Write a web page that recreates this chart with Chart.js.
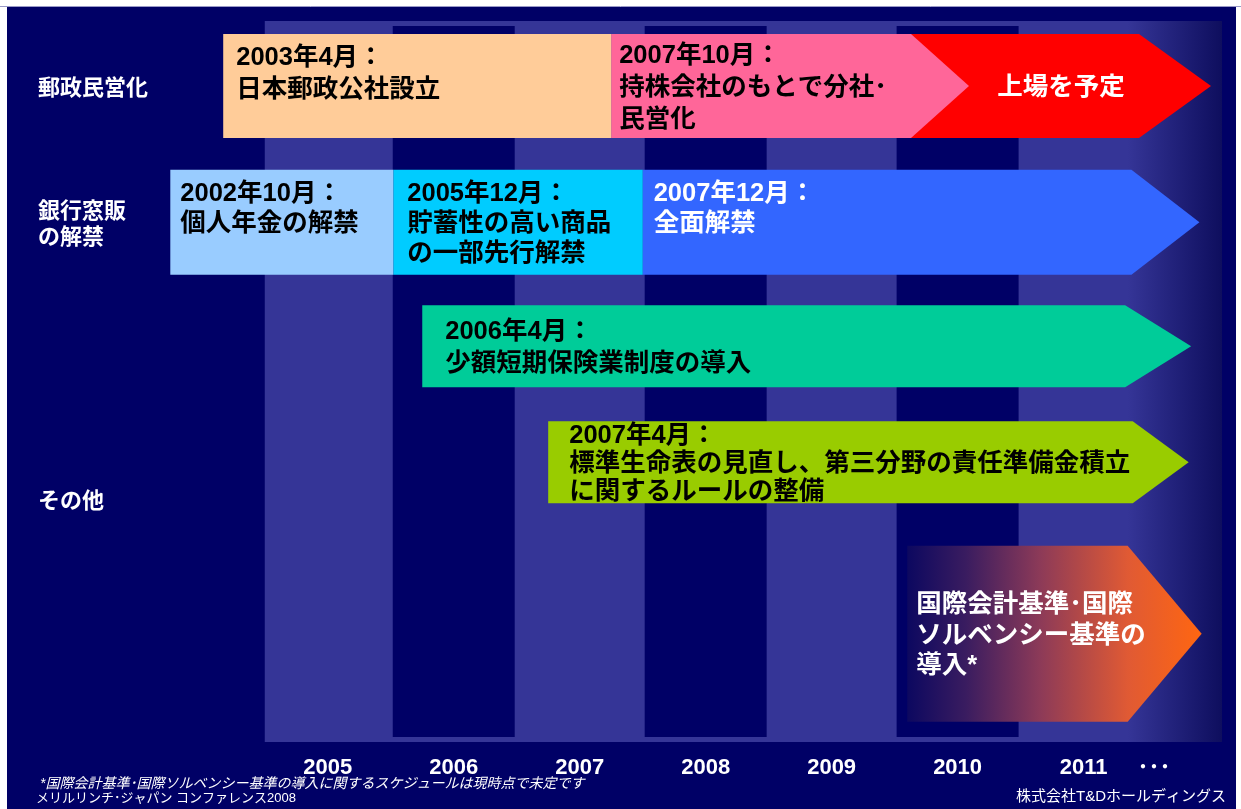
<!DOCTYPE html>
<html lang="ja">
<head>
<meta charset="UTF-8">
<title>規制緩和スケジュール</title>
<script src="https://cdn.jsdelivr.net/npm/chart.js"></script>
<style>
  html, body { margin: 0; padding: 0; background: #fff; }
  .chart-box { position: relative; width: 1241px; height: 809px; }
</style>
</head>
<body>
<div class="chart-box"><canvas id="timelineChart" width="1241" height="809"></canvas></div>
<script>
// years on the bottom axis
const years = [2005, 2006, 2007, 2008, 2009, 2010, 2011];
const moreYearsPos = 2012.06;   // the "･･･" after 2011

// row titles at the left (y runs 0 = top .. 100 = bottom)
const rowNames = ['郵政民営化', ['銀行窓販', 'の解禁'], 'その他'];
const rowNamePos = [9.4, 28.3, 66.7];

// lanes the arrows run in
const laneCenter = [9.0, 27.9, 45.1, 61.2, 85.0];

// events: text, lane, start / end (in years)
const eventText = [
    '2003年4月：\n日本郵政公社設立',
    '2007年10月：\n持株会社のもとで分社･\n民営化',
    '上場を予定',
    '2002年10月：\n個人年金の解禁',
    '2005年12月：\n貯蓄性の高い商品\nの一部先行解禁',
    '2007年12月：\n全面解禁',
    '2006年4月：\n少額短期保険業制度の導入',
    '2007年4月：\n標準生命表の見直し、第三分野の責任準備金積立\nに関するルールの整備',
    '国際会計基準･国際\nソルベンシー基準の\n導入*'
];
const eventLane  = [0, 0, 0, 1, 1, 1, 2, 3, 4];
const eventStart = [2004.67, 2007.75, 2010.13, 2004.25, 2006.02, 2008.00, 2006.25, 2007.25, 2010.10];
const eventEnd   = [2007.75, 2010.13, 2011.94, 2006.02, 2008.00, 2011.88, 2011.83, 2011.89, 2011.85];

// ---- styling ----
const NAVY = '#000066';
const BAND = '#353597';
const FONT = '"Liberation Sans", "Noto Sans CJK JP", sans-serif';
const laneHeight = [104, 105, 82, 82, 176];
const eventColor = ['#FFCC99', '#FF6699', '#FF0000', '#99CCFF', '#00CCFF', '#3366FF', '#00CC99', '#99CC00', null];
const eventTextColor = ['#000', '#000', '#fff', '#000', '#000', '#fff', '#000', '#000', '#fff'];
const eventTip = [0, 58, 72, 0, 0, 68, 66, 56, 74];
const eventPadX = [13, 8, 0, 10, 14, 11, 23, 21, 9];
const eventAnchor = ['top', 'middle', 'center', 'top', 'middle', 'top', 'middle', 'middle', 'middle'];
const eventLineH = [32, 32, 32, 30, 30, 30, 32, 28, 30.5];

const datasets = eventText.map((t, i) => ({
    label: t,
    data: [{ x: [eventStart[i], eventEnd[i]], y: laneCenter[eventLane[i]] }],
    stack: 'all',
    barThickness: laneHeight[eventLane[i]],
    backgroundColor: 'rgba(0,0,0,0)',
    borderWidth: 0
}));

// page frame + year columns behind the arrows
const backdrop = {
    id: 'backdrop',
    beforeDraw(chart) {
        const ctx = chart.ctx;
        ctx.save();
        ctx.fillStyle = '#fff';
        ctx.fillRect(0, 0, chart.width, chart.height);
        ctx.fillStyle = NAVY;
        ctx.fillRect(7, 7, chart.width - 12, chart.height - 7);
        ctx.strokeStyle = '#9a9ac8';
        ctx.beginPath();
        ctx.moveTo(0, 6.5);
        ctx.lineTo(chart.width, 6.5);
        ctx.stroke();
        ctx.restore();
    },
    beforeDatasetsDraw(chart) {
        const ctx = chart.ctx;
        const { top, bottom, right } = chart.chartArea;
        const xs = chart.scales.x;
        const x0 = xs.getPixelForValue(years[0]);
        const xEnd = right - 14;
        const fadeFrom = xs.getPixelForValue(years[years.length - 1] + 0.85);
        ctx.save();
        const g = ctx.createLinearGradient(x0, 0, xEnd, 0);
        g.addColorStop(0, BAND);
        g.addColorStop((fadeFrom - x0) / (xEnd - x0), BAND);
        g.addColorStop(1, '#0e0e5e');
        ctx.fillStyle = g;
        ctx.fillRect(x0, top, xEnd - x0, bottom - top);
        ctx.fillStyle = NAVY;
        years.forEach((y, i) => {
            if (i % 2 === 1) {
                const a = xs.getPixelForValue(y);
                const b = xs.getPixelForValue(y + 1);
                ctx.fillRect(a + 2, top + 5, b - a - 4, bottom - top - 10);
            }
        });
        ctx.restore();
    }
};

// arrows and their labels
const arrows = {
    id: 'arrows',
    afterDatasetsDraw(chart) {
        const ctx = chart.ctx;
        const n = eventText.length;
        const boxes = [];
        for (let i = 0; i < n; i++) {
            const el = chart.getDatasetMeta(i).data[0];
            boxes.push(el.getProps(['x', 'y', 'base', 'height'], true));
        }
        ctx.save();
        // draw last first so earlier arrows sit on top (pink over red)
        for (let i = n - 1; i >= 0; i--) {
            const { x, y, base, height } = boxes[i];
            const t = y - height / 2, b = y + height / 2, tip = eventTip[i];
            ctx.beginPath();
            ctx.moveTo(base, t);
            ctx.lineTo(x, t);
            if (tip) ctx.lineTo(x + tip, y);
            ctx.lineTo(x, b);
            ctx.lineTo(base, b);
            ctx.closePath();
            if (eventColor[i]) {
                ctx.fillStyle = eventColor[i];
            } else {
                const g = ctx.createLinearGradient(base, 0, x + tip, 0);
                g.addColorStop(0, '#0c0860');
                g.addColorStop(0.2, '#3a1c60');
                g.addColorStop(0.45, '#8c3a58');
                g.addColorStop(0.75, '#e05a34');
                g.addColorStop(1, '#ff6611');
                ctx.fillStyle = g;
            }
            ctx.fill();
        }
        ctx.font = 'bold 25.5px ' + FONT;
        ctx.textBaseline = 'middle';
        for (let i = 0; i < n; i++) {
            const { x, y, base, height } = boxes[i];
            const lines = eventText[i].split('\n');
            const lh = eventLineH[i];
            ctx.fillStyle = eventTextColor[i];
            let y0, tx;
            if (eventAnchor[i] === 'top') {
                y0 = y - height / 2 + 24;
            } else {
                y0 = y - (lines.length - 1) * lh / 2 + 2;
            }
            if (eventAnchor[i] === 'center') {
                ctx.textAlign = 'center';
                tx = (base + x + eventTip[i]) / 2;
            } else {
                ctx.textAlign = 'left';
                tx = base + eventPadX[i];
            }
            lines.forEach((ln, k) => ctx.fillText(ln, tx, y0 + k * lh));
        }
        ctx.restore();
    },
    afterDraw(chart) {
        const ctx = chart.ctx;
        ctx.save();
        ctx.fillStyle = '#fff';
        ctx.textBaseline = 'middle';
        ctx.textAlign = 'left';
        ctx.font = 'italic 14px ' + FONT;
        ctx.fillText('*国際会計基準･国際ソルベンシー基準の導入に関するスケジュールは現時点で未定です', 40, 784);
        ctx.font = '13px ' + FONT;
        ctx.fillText('メリルリンチ･ジャパン コンファレンス2008', 36, 798);
        ctx.textAlign = 'right';
        ctx.font = '15px ' + FONT;
        ctx.fillText('株式会社T&Dホールディングス', chart.width - 15, 797);
        ctx.restore();
    }
};

new Chart(document.getElementById('timelineChart'), {
    type: 'bar',
    data: { datasets: datasets },
    options: {
        indexAxis: 'y',
        responsive: false,
        animation: false,
        events: [],
        layout: { padding: { left: 38, right: 5, top: 21, bottom: 0 } },
        plugins: {
            legend: { display: false },
            tooltip: { enabled: false }
        },
        scales: {
            x: {
                type: 'linear',
                min: 2004.2,
                max: 2012.71,
                stacked: false,
                grid: { display: false },
                border: { display: false },
                afterFit: s => { s.height = 67; },
                afterBuildTicks: s => {
                    s.ticks = years.map(y => ({ value: y + 0.5 })).concat([{ value: moreYearsPos }]);
                },
                ticks: {
                    color: '#fff',
                    padding: 5,
                    maxRotation: 0,
                    autoSkip: false,
                    font: { family: FONT, size: 22, weight: 'bold' },
                    callback: (v, i) => i < years.length ? String(years[i]) : '･･･'
                }
            },
            y: {
                type: 'linear',
                reverse: true,
                min: 0,
                max: 100,
                offset: false,
                grid: { display: false, offset: false },
                border: { display: false },
                afterFit: s => { s.width = 126; },
                afterBuildTicks: s => {
                    s.ticks = rowNamePos.map(v => ({ value: v }));
                },
                ticks: {
                    color: '#fff',
                    crossAlign: 'far',
                    autoSkip: false,
                    font: { family: FONT, size: 22, weight: 'bold', lineHeight: 1.2 },
                    callback: (v, i) => rowNames[i]
                }
            }
        }
    },
    plugins: [backdrop, arrows]
});
</script>
</body>
</html>
